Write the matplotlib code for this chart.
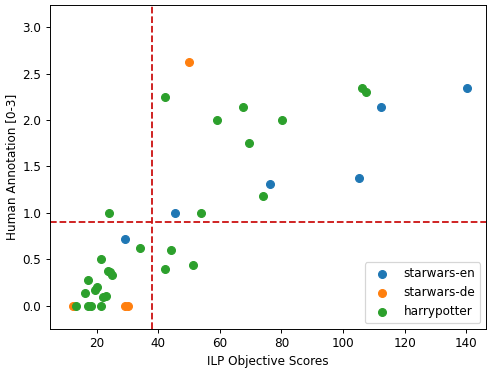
import matplotlib
matplotlib.use("Agg")
import matplotlib.pyplot as plt

en_x = [29.1, 45.3, 76.2, 105.2, 112.2, 140.3]
en_y = [0.72, 1.00, 1.31, 1.38, 2.14, 2.34]

de_x = [12.1, 29.1, 30.2, 50.0]
de_y = [0.00, 0.00, 0.00, 2.62]

hp_x = [42.1, 59.2, 67.4, 69.3, 80.2, 74.1, 54.0, 106.2, 107.5,
        24.0, 34.0, 44.2, 21.2, 42.0, 51.2, 23.5, 24.3, 25.0,
        17.2, 16.0, 19.3, 20.2, 22.1, 23.1,
        13.2, 17.0, 18.0, 21.2]
hp_y = [2.25, 2.00, 2.14, 1.75, 2.00, 1.18, 1.00, 2.35, 2.30,
        1.00, 0.62, 0.60, 0.50, 0.40, 0.44, 0.37, 0.36, 0.33,
        0.28, 0.14, 0.17, 0.20, 0.10, 0.11,
        0.00, 0.00, 0.00, 0.00]

x_thresh = 38
y_thresh = 0.9

DPI = 86.6
fig = plt.figure(figsize=(493 / DPI, 371 / DPI), dpi=DPI)
ax = fig.add_axes([0.101, 0.113, 0.885, 0.874])
ax.scatter(en_x, en_y, s=42, label="starwars-en")
ax.scatter(de_x, de_y, s=42, label="starwars-de")
ax.scatter(hp_x, hp_y, s=42, label="harrypotter")
ax.axvline(x_thresh, color="#cc1111", linestyle="--", linewidth=1.5)
ax.axhline(y_thresh, color="#cc1111", linestyle="--", linewidth=1.5)
ax.set_xlim(4.7, 146.5)
ax.set_ylim(-0.25, 3.24)
ax.set_xlabel("ILP Objective Scores")
ax.set_ylabel("Human Annotation [0-3]")
ax.legend(loc="lower right")
fig.savefig("out.png", dpi=DPI)
